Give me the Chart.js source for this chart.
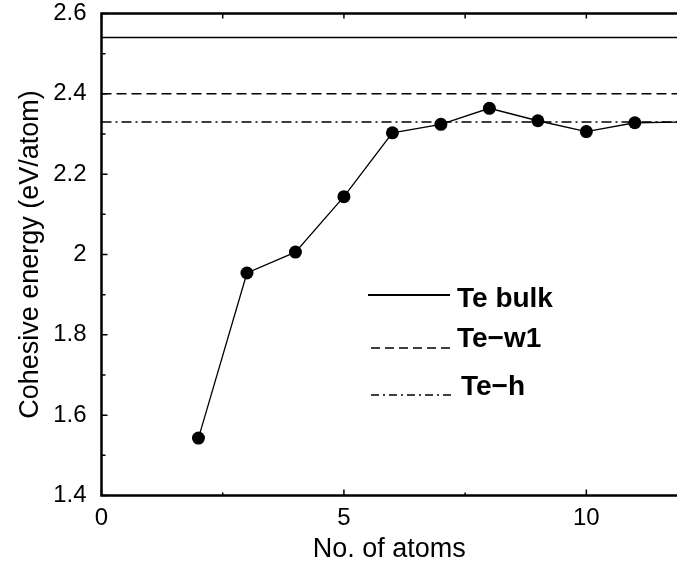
<!DOCTYPE html>
<html>
<head>
<meta charset="utf-8">
<script src="https://cdn.jsdelivr.net/npm/chart.js@4/dist/chart.umd.min.js"></script>
<style>
  html, body { margin: 0; padding: 0; background: #fff; }
  #wrap { width: 677px; height: 566px; }
</style>
</head>
<body>
<div id="wrap"><canvas id="cohesive"></canvas></div>
<script>
  // cohesive energy of Te_n clusters
  const atoms = [2, 3, 4, 5, 6, 7, 8, 9, 10, 11, 12];
  const energy = [1.543, 1.954, 2.006, 2.144, 2.303, 2.324, 2.364, 2.333, 2.306, 2.328, 2.330];

  // reference phases (horizontal lines)
  const refNames = ['Te bulk', 'Te\u2212w1', 'Te\u2212h'];
  const refLevels = [2.54, 2.40, 2.33];
  const refDashes = [[], [10, 5], [10, 4, 2, 4]];

  const xTicks = [0, 2.5, 5, 7.5, 10];
  const xLabels = ['0', '', '5', '', '10'];
  const yTicks = [1.4, 1.5, 1.6, 1.7, 1.8, 1.9, 2.0, 2.1, 2.2, 2.3, 2.4, 2.5, 2.6];
  const yLabels = ['1.4', '', '1.6', '', '1.8', '', '2', '', '2.2', '', '2.4', '', '2.6'];

  Chart.defaults.font.family = "'Liberation Sans', Arial, sans-serif";
  Chart.defaults.color = '#000';

  const refSets = refLevels.map((v, i) => ({
    label: refNames[i],
    data: [{ x: 0, y: v }, { x: 12, y: v }],
    borderColor: '#000',
    borderWidth: 1.5,
    borderDash: refDashes[i],
    pointRadius: 0,
    fill: false
  }));

  // frame, inward ticks and the hand-placed key
  const frameTicks = {
    id: 'frameTicks',
    afterDraw(chart) {
      const { ctx, chartArea: a, scales: { x, y } } = chart;
      ctx.save();
      ctx.strokeStyle = '#000';
      ctx.lineWidth = 2.5;
      ctx.beginPath();
      ctx.moveTo(a.right + 5, a.top);
      ctx.lineTo(a.left, a.top);
      ctx.lineTo(a.left, a.bottom);
      ctx.lineTo(a.right + 5, a.bottom);
      ctx.stroke();

      ctx.lineWidth = 1.5;
      ctx.beginPath();
      y.ticks.forEach((t, i) => {
        const py = y.getPixelForValue(t.value);
        const len = yLabels[i] ? 6 : 4;
        ctx.moveTo(a.left, py); ctx.lineTo(a.left + len, py);
      });
      x.ticks.forEach((t, i) => {
        const px = x.getPixelForValue(t.value);
        const len = xLabels[i] ? 6 : 3;
        ctx.moveTo(px, a.bottom); ctx.lineTo(px, a.bottom - len);
        ctx.moveTo(px, a.top); ctx.lineTo(px, a.top + 5);
      });
      ctx.stroke();

      const rows = [
        { ly: 295, x0: 368, x1: 450, tx: 457, ty: 306.5, dash: [] },
        { ly: 348, x0: 371, x1: 453, tx: 457, ty: 347, dash: [9, 5] },
        { ly: 395, x0: 371, x1: 452, tx: 461, ty: 395, dash: [8, 4, 2, 4] }
      ];
      ctx.font = "bold 28px 'Liberation Sans', Arial, sans-serif";
      ctx.fillStyle = '#000';
      ctx.textBaseline = 'alphabetic';
      rows.forEach((r, i) => {
        ctx.lineWidth = i === 0 ? 2 : 1.6;
        ctx.setLineDash(r.dash);
        ctx.beginPath();
        ctx.moveTo(r.x0, r.ly); ctx.lineTo(r.x1, r.ly);
        ctx.stroke();
        ctx.setLineDash([]);
        ctx.fillText(refNames[i], r.tx, r.ty);
      });
      ctx.restore();
    }
  };

  new Chart(document.getElementById('cohesive'), {
    type: 'line',
    data: {
      datasets: [
        {
          label: 'clusters',
          data: atoms.map((n, i) => ({ x: n, y: energy[i] })),
          borderColor: '#000',
          backgroundColor: '#000',
          borderWidth: 1.3,
          pointRadius: 6.5,
          pointHoverRadius: 6.5,
          pointBorderWidth: 0,
          tension: 0
        },
        ...refSets
      ]
    },
    options: {
      responsive: true,
      maintainAspectRatio: false,
      animation: false,
      events: [],
      layout: { autoPadding: false, padding: { top: 13.5, right: 0, left: 0, bottom: 0 } },
      plugins: { legend: { display: false }, tooltip: { enabled: false } },
      scales: {
        x: {
          type: 'linear',
          min: 0,
          max: 11.87,
          grid: { display: false, drawTicks: false },
          border: { display: false },
          afterBuildTicks: s => { s.ticks = xTicks.map(v => ({ value: v })); },
          afterFit: s => { s.height = 70.5; s.paddingLeft = 0; s.paddingRight = 0; },
          ticks: {
            autoSkip: false,
            maxRotation: 0,
            padding: 8,
            font: { size: 24 },
            callback: (v, i) => xLabels[i]
          },
          title: {
            display: true,
            text: 'No. of atoms',
            font: { size: 27 },
            padding: { top: 0, bottom: 0 }
          }
        },
        y: {
          type: 'linear',
          min: 1.4,
          max: 2.6,
          grid: { display: false, drawTicks: false },
          border: { display: false },
          afterBuildTicks: s => { s.ticks = yTicks.map(v => ({ value: v })); },
          afterFit: s => { s.width = 101.5; s.paddingTop = 0; s.paddingBottom = 0; },
          ticks: {
            autoSkip: false,
            padding: 15,
            font: { size: 24 },
            callback: (v, i) => yLabels[i]
          },
          title: {
            display: true,
            text: 'Cohesive energy (eV/atom)',
            font: { size: 27 },
            padding: { top: 14, bottom: 0 }
          }
        }
      }
    },
    plugins: [frameTicks]
  });
</script>
</body>
</html>
